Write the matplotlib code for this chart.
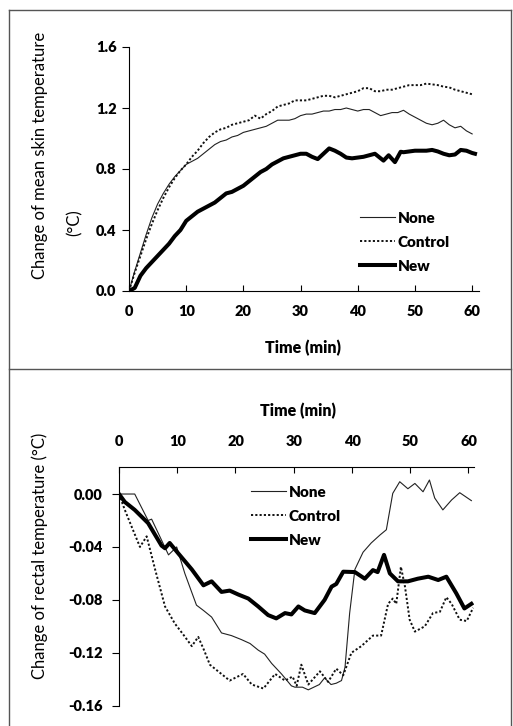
import matplotlib.pyplot as plt
from matplotlib.lines import Line2D

plt.rcParams['font.family'] = ['Lato', 'DejaVu Sans']

# ---- top panel: change of mean skin temperature ----
t_skin = list(range(0, 61))
skin_none = [0.0, 0.13, 0.25, 0.37, 0.48, 0.57, 0.64, 0.70, 0.75, 0.79,
             0.83, 0.85, 0.87, 0.90, 0.93, 0.96, 0.98, 0.99, 1.01, 1.02,
             1.04, 1.05, 1.06, 1.07, 1.08, 1.10, 1.12, 1.12, 1.12, 1.13,
             1.15, 1.16, 1.16, 1.17, 1.18, 1.18, 1.19, 1.19, 1.20, 1.19,
             1.18, 1.19, 1.19, 1.17, 1.15, 1.16, 1.17, 1.17, 1.185, 1.16,
             1.14, 1.12, 1.10, 1.09, 1.10, 1.12, 1.09, 1.07, 1.08, 1.05,
             1.03]
skin_control = [0.0, 0.12, 0.23, 0.34, 0.44, 0.53, 0.61, 0.68, 0.74, 0.79,
                0.83, 0.88, 0.92, 0.97, 1.01, 1.04, 1.06, 1.07, 1.09, 1.10,
                1.11, 1.12, 1.15, 1.13, 1.16, 1.18, 1.21, 1.22, 1.23, 1.25,
                1.25, 1.25, 1.26, 1.27, 1.28, 1.28, 1.27, 1.28, 1.29, 1.30,
                1.31, 1.33, 1.33, 1.31, 1.31, 1.32, 1.32, 1.33, 1.34, 1.35,
                1.35, 1.35, 1.36, 1.355, 1.35, 1.34, 1.335, 1.32, 1.31, 1.30,
                1.29]
t_skin_new = [0, 1, 2, 3, 4, 5, 6, 7, 8, 9, 10, 11, 12, 13, 14, 15, 16, 17,
              18, 19, 20, 21, 22, 23, 24, 25, 26, 27, 28, 29, 30, 31, 32, 33,
              34, 35, 36, 37, 38, 39, 40, 41, 42, 43, 44, 44.5, 45.4, 46.5,
              47.5, 48, 49, 50, 51, 52, 53, 54, 55, 56, 57, 58, 59, 60, 60.5]
skin_new = [0.0, 0.02, 0.10, 0.15, 0.19, 0.23, 0.27, 0.31, 0.36, 0.40,
            0.46, 0.49, 0.52, 0.54, 0.56, 0.58, 0.61, 0.64, 0.65, 0.67,
            0.69, 0.72, 0.75, 0.78, 0.80, 0.83, 0.85, 0.87, 0.88, 0.89,
            0.90, 0.90, 0.88, 0.865, 0.90, 0.935, 0.92, 0.90, 0.875, 0.87,
            0.875, 0.88, 0.89, 0.90, 0.87, 0.855, 0.89, 0.845, 0.913, 0.91,
            0.915, 0.92, 0.92, 0.92, 0.925, 0.915, 0.90, 0.89, 0.895, 0.925,
            0.92, 0.905, 0.90]

# ---- bottom panel: change of rectal temperature ----
t_rec_none = [0, 0.5, 2.7, 5.0, 5.6, 7.0, 8.5, 9.9, 11.3, 13.3, 14.5, 15.9,
              17.6, 19.3, 21.0, 22.5, 23.9, 25.0, 26.2, 27.9, 29.6, 30.2,
              31.5, 32.5, 34.4, 35.3, 36.4, 37.3, 38.2, 38.8, 39.6, 40.5,
              41.9, 43.3, 44.8, 45.9, 47.0, 48.2, 49.6, 50.8, 52.2, 53.3,
              54.2, 55.6, 57.1, 58.5, 60.5]
rec_none = [0.0, 0.0, 0.0, -0.020, -0.019, -0.032, -0.046, -0.040, -0.060,
            -0.084, -0.088, -0.093, -0.105, -0.107, -0.110, -0.113, -0.118,
            -0.121, -0.128, -0.136, -0.145, -0.146, -0.146, -0.148, -0.144,
            -0.139, -0.144, -0.143, -0.141, -0.131, -0.090, -0.057, -0.044,
            -0.037, -0.031, -0.027, 0.0005, 0.0093, 0.004, 0.008, 0.0017,
            0.0106, -0.003, -0.012, -0.0045, 0.001, -0.005]
t_rec_control = [0, 1.0, 2.2, 3.6, 4.75, 6.2, 7.9, 9.6, 11.0, 12.5, 13.6,
                 14.6, 15.6, 17.3, 19.0, 21.3, 22.8, 24.8, 26.8, 28.5, 29.8,
                 30.5, 31.3, 32.5, 34.5, 35.9, 37.3, 38.5, 39.9, 41.6, 43.6,
                 45.0, 46.2, 47.0, 47.6, 48.4, 49.1, 49.9, 50.8, 52.5, 53.9,
                 55.1, 56.2, 57.1, 58.5, 59.7, 60.8]
rec_control = [0.0, -0.012, -0.025, -0.040, -0.032, -0.057, -0.085, -0.098,
               -0.106, -0.115, -0.108, -0.118, -0.129, -0.135, -0.141,
               -0.136, -0.144, -0.147, -0.136, -0.141, -0.138, -0.145,
               -0.129, -0.144, -0.134, -0.142, -0.132, -0.137, -0.120,
               -0.115, -0.107, -0.107, -0.083, -0.079, -0.083, -0.055,
               -0.070, -0.095, -0.104, -0.100, -0.090, -0.089, -0.078,
               -0.083, -0.095, -0.096, -0.086]
t_rec_new = [0, 1.0, 2.7, 5.0, 7.3, 7.9, 8.7, 10.2, 12.5, 14.5, 15.9, 17.6,
             19.0, 20.5, 22.2, 23.9, 25.6, 27.0, 28.5, 29.6, 30.8, 31.9,
             33.6, 35.3, 36.5, 37.3, 38.5, 40.5, 42.2, 43.6, 44.4, 45.5,
             46.5, 47.9, 49.6, 51.3, 53.1, 54.8, 56.2, 57.9, 59.3, 60.5]
rec_new = [0.0, -0.006, -0.012, -0.022, -0.039, -0.041, -0.037, -0.045,
           -0.057, -0.069, -0.066, -0.074, -0.073, -0.076, -0.079, -0.085,
           -0.0915, -0.094, -0.090, -0.091, -0.085, -0.088, -0.090, -0.080,
           -0.070, -0.068, -0.0587, -0.059, -0.064, -0.0575, -0.059,
           -0.046, -0.060, -0.066, -0.066, -0.064, -0.0625, -0.065,
           -0.0625, -0.075, -0.0865, -0.083]

skin_ticks = [0.0, 0.4, 0.8, 1.2, 1.6]
skin_labels = ['0.0', '0.4', '0.8', '1.2', '1.6']
rec_ticks = [0.0, -0.04, -0.08, -0.12, -0.16]
rec_labels = ['0.00', '-0.04', '-0.08', '-0.12', '-0.16']
time_ticks = [0, 10, 20, 30, 40, 50, 60]
series_names = ['None', 'Control', 'New']

W, H = 513, 726
fig = plt.figure(figsize=(W / 100, H / 100), dpi=100)

def px_axes(left, top, right, bottom):
    return fig.add_axes([left / W, 1 - bottom / H, (right - left) / W, (bottom - top) / H])

styles = [dict(color='#222222', lw=0.8, ls='-'),
          dict(color='#111111', lw=1.4, ls=(0, (1.1, 1.1))),
          dict(color='black', lw=2.9, ls='-')]

tick_font = dict(fontsize=10.5, fontweight='heavy')
leg_font = dict(size=11, weight='heavy')

# top panel
ax1 = px_axes(129, 47, 479, 291)
for (tx, ys), st in zip([(t_skin, skin_none), (t_skin, skin_control), (t_skin_new, skin_new)], styles):
    ax1.plot(tx, ys, **st)
ax1.set_xlim(0, 61.2)
ax1.set_ylim(0, 1.6)
ax1.set_yticks(skin_ticks)
ax1.set_yticklabels(skin_labels, **tick_font)
ax1.set_xticks(time_ticks)
ax1.set_xticklabels([str(t) for t in time_ticks], **tick_font)
ax1.spines[['top', 'right']].set_visible(False)
ax1.tick_params(axis='x', direction='in', length=4, pad=10)
ax1.tick_params(axis='y', direction='out', length=5, pad=4)
ax1.legend(series_names, loc='upper left', bbox_to_anchor=(352 / W, 1 - 204 / H),
           bbox_transform=fig.transFigure, frameon=False, handlelength=2.3,
           handletextpad=0.2, labelspacing=0.72, borderpad=0, prop=leg_font)
fig.text(303 / W, 1 - 348 / H, 'Time (min)', ha='center', va='center', fontsize=11.5, fontweight='heavy')
fig.text(40 / W, 1 - 155 / H, 'Change of mean skin temperature', rotation=90,
         ha='center', va='center', fontsize=12)
fig.text(75 / W, 1 - 223 / H, '(°C)', rotation=90, ha='center', va='center', fontsize=12)

# bottom panel
ax2 = px_axes(119, 467.3, 474.3, 705.7)
for (tx, ys), st in zip([(t_rec_none, rec_none), (t_rec_control, rec_control), (t_rec_new, rec_new)], styles):
    ax2.plot(tx, ys, **st)
ax2.set_xlim(0, 61)
ax2.set_ylim(-0.16, 0.0202)
ax2.set_yticks(rec_ticks)
ax2.set_yticklabels(rec_labels, **tick_font)
ax2.set_xticks(time_ticks)
ax2.set_xticklabels([str(t) for t in time_ticks], **tick_font)
ax2.xaxis.tick_top()
ax2.spines[['bottom', 'right']].set_visible(False)
ax2.tick_params(axis='x', direction='in', length=4, pad=14)
ax2.tick_params(axis='y', direction='out', length=5, pad=7)
ax2.legend(series_names, loc='upper left', bbox_to_anchor=(243 / W, 1 - 478 / H),
           bbox_transform=fig.transFigure, frameon=False, handlelength=2.3,
           handletextpad=0.2, labelspacing=0.72, borderpad=0, prop=leg_font)
fig.text(298 / W, 1 - 411 / H, 'Time (min)', ha='center', va='center', fontsize=11.5, fontweight='heavy')
fig.text(40 / W, 1 - 556 / H, 'Change of rectal temperature (°C)', rotation=90,
         ha='center', va='center', fontsize=12)

# panel frames
frame = dict(color='#555555', lw=1.0, transform=fig.transFigure)
fig.add_artist(Line2D([9 / W, 511 / W], [1 - 10 / H, 1 - 10 / H], **frame))
fig.add_artist(Line2D([9 / W, 9 / W], [1 - 10 / H, 0], **frame))
fig.add_artist(Line2D([511 / W, 511 / W], [1 - 10 / H, 0], **frame))
fig.add_artist(Line2D([9 / W, 511 / W], [1 - 369 / H, 1 - 369 / H], **frame))

fig.savefig('out.png', dpi=100)
